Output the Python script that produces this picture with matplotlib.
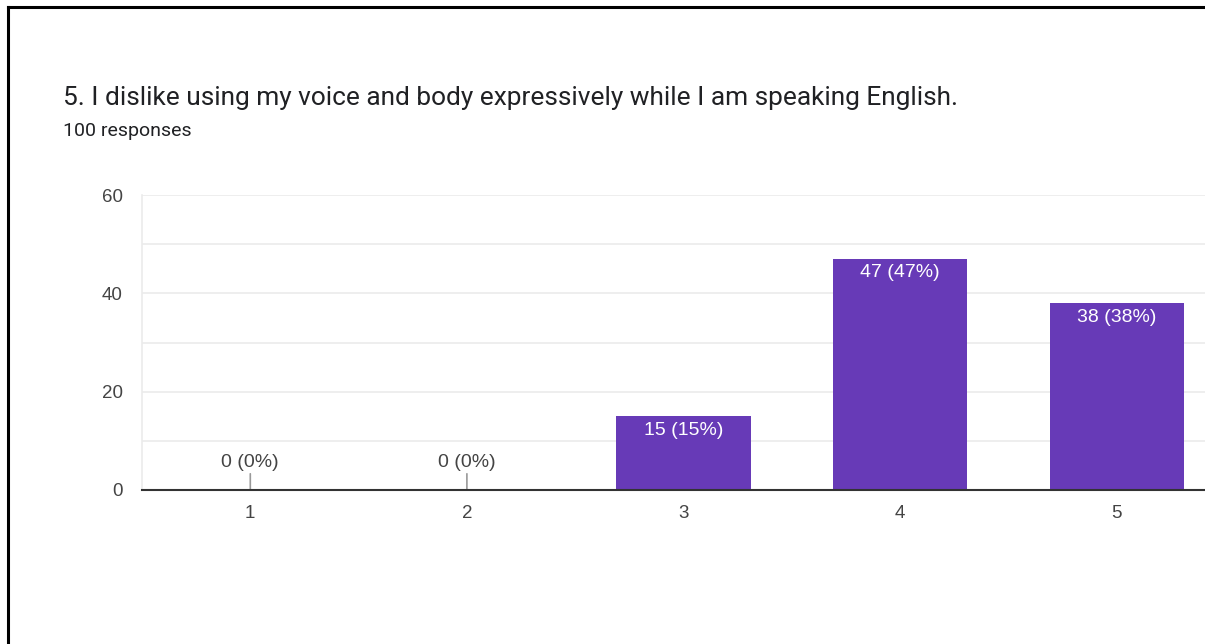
import matplotlib.pyplot as plt
from matplotlib.lines import Line2D

TITLE = '5. I dislike using my voice and body expressively while I am speaking English.'
SUBTITLE = '100 responses'

categories = ['1', '2', '3', '4', '5']
counts = [0, 0, 15, 47, 38]
percents = [0, 0, 15, 47, 38]
y_ticks = [0, 20, 40, 60]

BAR_COLOR = '#673ab7'
TEXT_COLOR = '#444444'
CHART_FONT = ['Liberation Sans', 'DejaVu Sans']

W, H = 1205, 644
fig = plt.figure(figsize=(W / 100, H / 100), dpi=100)
fig.patch.set_facecolor('white')

# plot area runs off the right edge of the canvas
ax = fig.add_axes([142 / W, 1 - 490 / H, (1225 - 142) / W, (490 - 195) / H])
x = list(range(1, len(categories) + 1))
ax.bar(x, counts, width=0.62, color=BAR_COLOR, zorder=3)

ax.set_xlim(0.5, len(categories) + 0.5)
ax.set_ylim(0, 60)
ax.set_yticks(y_ticks)
ax.set_yticks(range(0, 61, 10), minor=True)
ax.set_xticks(x)
ax.set_xticklabels(categories)
ax.grid(axis='y', which='both', color='#ebebeb', linewidth=1.2, zorder=0)
ax.tick_params(axis='both', which='both', length=0, labelsize=13.5, labelcolor=TEXT_COLOR)
ax.tick_params(axis='y', pad=14)
ax.tick_params(axis='x', pad=11)
for lab in ax.get_xticklabels() + ax.get_yticklabels():
    lab.set_family(CHART_FONT)

for side in ['top', 'right']:
    ax.spines[side].set_visible(False)
ax.spines['left'].set_color('#ebebeb')
ax.spines['left'].set_linewidth(1.2)
ax.spines['bottom'].set_color('#333333')
ax.spines['bottom'].set_linewidth(1.5)
ax.spines['bottom'].set_zorder(4)

for xi, c, p in zip(x, counts, percents):
    label = f'{c} ({p}%)'
    if c == 0:
        ax.annotate(label, xy=(xi, 0), xytext=(0, 19), textcoords='offset pixels',
                    ha='center', va='bottom', fontsize=14, color=TEXT_COLOR,
                    family=CHART_FONT,
                    arrowprops=dict(arrowstyle='-', color='#999999', lw=1.2,
                                    relpos=(0.5, 0), shrinkA=0, shrinkB=0))
    else:
        ax.annotate(label, xy=(xi, c), xytext=(0, -14), textcoords='offset pixels',
                    ha='center', va='center', fontsize=14, color='white',
                    family=CHART_FONT, zorder=5)

fig.text(63 / W, 1 - 98 / H, TITLE, fontsize=18.9, color='#202124',
         family=['Roboto', 'DejaVu Sans'], va='center', ha='left')
fig.text(63 / W, 1 - 131 / H, SUBTITLE, fontsize=14, color='#202124',
         family=['Roboto', 'DejaVu Sans'], va='center', ha='left')

# card border (left and top edges)
fig.add_artist(Line2D([8 / W, 8 / W], [0, 1 - 7 / H], color='black', linewidth=2.2,
                      transform=fig.transFigure))
fig.add_artist(Line2D([8 / W, 1], [1 - 7 / H, 1 - 7 / H], color='black', linewidth=2.2,
                      transform=fig.transFigure))

fig.savefig('out.png', dpi=100)
